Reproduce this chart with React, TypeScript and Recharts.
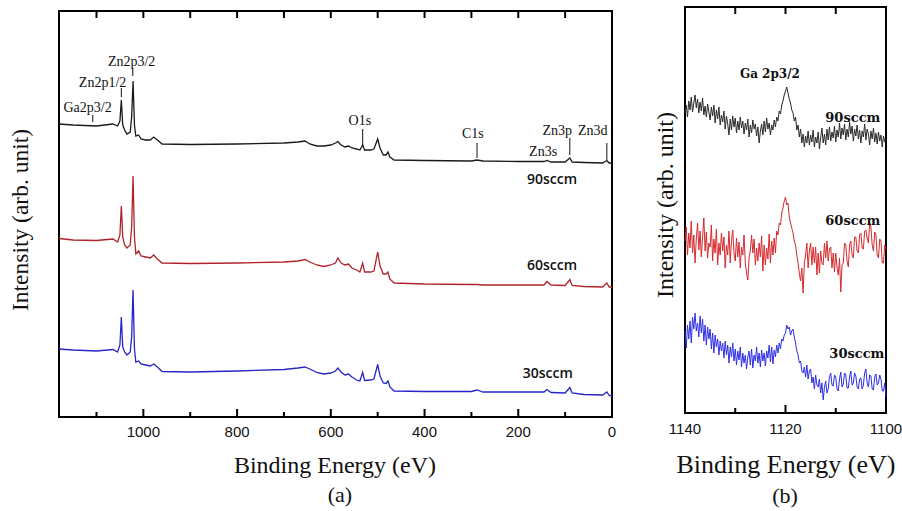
import React from 'react';
import { LineChart, Line, XAxis, YAxis, ReferenceLine, ReferenceDot, ReferenceArea } from 'recharts';

// (a) survey spectra, binding energy in eV
const surveyEv = [
  1180, 1150, 1100, 1065, 1055, 1050, 1047, 1044, 1040, 1035, 1028, 1025, 1022, 1019, 1016, 1010,
  1005, 995, 985, 978, 970, 960, 900, 800, 700, 670, 655, 645, 630, 615, 600, 590, 585, 578, 570,
  562, 555, 545, 538, 532, 528, 515, 508, 500, 495, 488, 482, 478, 474, 465, 400, 300, 288, 275,
  200, 145, 139, 130, 100, 90, 85, 60, 20, 11, 6, 0,
];
const survey90 = [
  293, 292, 291, 293, 291, 296, 317, 292, 287, 283, 285, 300, 336, 292, 281, 282,
  278, 277, 277, 280, 277, 273, 272.5, 273, 274, 275, 276, 273, 271, 271, 272, 274, 275.5, 272, 270,
  271, 269, 268, 267, 272, 267, 267, 268, 278, 269, 262, 262, 265, 260, 257, 256.5, 256, 257, 256,
  255.5, 255.5, 256.5, 255, 255, 259, 255, 254.5, 254, 256.5, 254, 254,
];
const survey60 = [
  178.5, 177, 176.5, 178, 175, 182, 211, 180, 172, 169, 172, 190, 241, 180, 163, 166,
  161, 160, 159, 162, 158, 154, 153.5, 154, 155, 156, 157.5, 155, 152, 150.5, 152, 154, 159, 154, 152,
  153, 149, 147, 145, 154, 145, 145, 146, 165, 151, 143, 143, 145, 138, 134, 133, 132.5, 132.5, 132,
  132, 132, 135.5, 132, 131.5, 137.5, 131.5, 130.5, 130, 134, 130, 130,
];
const survey30 = [
  68, 67, 66, 67.5, 65, 72, 100, 70, 65, 62, 65, 80, 127, 68, 55, 56,
  53, 52, 51, 53, 50, 45.5, 45, 46, 47.5, 49, 50, 48, 44.5, 43, 44, 46, 49, 45, 42,
  43, 40, 37, 36, 44.5, 36.5, 37, 38, 52.5, 41, 34, 33.5, 36, 30, 26, 25.5, 25.5, 27, 25,
  25, 25, 27.5, 24.5, 24, 29.5, 24, 22.5, 22, 25, 21.5, 21,
];
const surveyTicks = [0, 100, 200, 300, 400, 500, 600, 700, 800, 900, 1000, 1100];

// (b) Ga 2p3/2 narrow scan
const narrowEv = [
  1140, 1139.75, 1139.5, 1139.25, 1139, 1138.75, 1138.5, 1138.25, 1138, 1137.75,
  1137.5, 1137.25, 1137, 1136.75, 1136.5, 1136.25, 1136, 1135.75, 1135.5, 1135.25,
  1135, 1134.75, 1134.5, 1134.25, 1134, 1133.75, 1133.5, 1133.25, 1133, 1132.75,
  1132.5, 1132.25, 1132, 1131.75, 1131.5, 1131.25, 1131, 1130.75, 1130.5, 1130.25,
  1130, 1129.75, 1129.5, 1129.25, 1129, 1128.75, 1128.5, 1128.25, 1128, 1127.75,
  1127.5, 1127.25, 1127, 1126.75, 1126.5, 1126.25, 1126, 1125.75, 1125.5, 1125.25,
  1125, 1124.75, 1124.5, 1124.25, 1124, 1123.75, 1123.5, 1123.25, 1123, 1122.75,
  1122.5, 1122.25, 1122, 1121.75, 1121.5, 1121.25, 1121, 1120.75, 1120.5, 1120.25,
  1120, 1119.75, 1119.5, 1119.25, 1119, 1118.75, 1118.5, 1118.25, 1118, 1117.75,
  1117.5, 1117.25, 1117, 1116.75, 1116.5, 1116.25, 1116, 1115.75, 1115.5, 1115.25,
  1115, 1114.75, 1114.5, 1114.25, 1114, 1113.75, 1113.5, 1113.25, 1113, 1112.75,
  1112.5, 1112.25, 1112, 1111.75, 1111.5, 1111.25, 1111, 1110.75, 1110.5, 1110.25,
  1110, 1109.75, 1109.5, 1109.25, 1109, 1108.75, 1108.5, 1108.25, 1108, 1107.75,
  1107.5, 1107.25, 1107, 1106.75, 1106.5, 1106.25, 1106, 1105.75, 1105.5, 1105.25,
  1105, 1104.75, 1104.5, 1104.25, 1104, 1103.75, 1103.5, 1103.25, 1103, 1102.75,
  1102.5, 1102.25, 1102, 1101.75, 1101.5, 1101.25, 1101, 1100.75, 1100.5, 1100.25,
  1100,
];
const narrow90 = [
  300, 308, 296, 312, 303, 316, 301, 310, 318, 305,
  314, 300, 311, 302, 315, 298, 307, 296, 309, 301,
  293, 306, 297, 308, 290, 303, 294, 306, 288, 298,
  291, 302, 284, 297, 289, 278, 294, 283, 297, 286,
  295, 280, 292, 283, 296, 285, 292, 279, 290, 283,
  294, 276, 288, 280, 293, 284, 289, 277, 286, 270,
  282, 289, 278, 292, 281, 295, 284, 290, 278, 288,
  283, 293, 286, 296, 292, 302, 299, 308, 312, 318,
  322, 326, 320, 314, 310, 303, 300, 292, 296, 283,
  288, 276, 284, 270, 279, 266, 277, 270, 282, 268,
  278, 271, 283, 266, 276, 270, 281, 264, 275, 285,
  270, 279, 268, 284, 273, 286, 272, 281, 275, 287,
  271, 283, 276, 290, 274, 285, 278, 289, 273, 284,
  276, 291, 279, 287, 272, 284, 277, 288, 274, 283,
  270, 282, 276, 289, 273, 284, 279, 268, 282, 274,
  285, 271, 280, 269, 281, 272, 278, 266, 277, 271,
  274,
];
const narrow60 = [
  172, 186, 158, 180, 165, 192, 160, 178, 150, 174,
  190, 163, 182, 156, 176, 195, 162, 181, 155, 170,
  166, 188, 152, 174, 160, 184, 148, 170, 158, 180,
  162, 176, 145, 168, 158, 182, 150, 172, 183, 160,
  152, 175, 156, 171, 145, 166, 158, 178, 150, 140,
  133, 155, 162, 178, 160, 174, 148, 165, 152, 170,
  156, 177, 142, 168, 148, 165, 154, 179, 150, 172,
  158, 175, 160, 182, 178, 190, 188, 200, 205, 212,
  216, 208, 210, 196, 190, 185, 180, 172, 168, 158,
  150, 140, 132, 145, 120, 150, 158, 170, 145, 162,
  170, 148, 166, 150, 166, 138, 160, 140, 162, 150,
  148, 170, 155, 172, 152, 164, 166, 145, 160, 141,
  160, 146, 138, 155, 121, 148, 150, 170, 168, 152,
  146, 168, 172, 158, 155, 176, 176, 162, 160, 178,
  180, 165, 164, 182, 183, 175, 170, 190, 186, 168,
  162, 181, 178, 158, 155, 174, 172, 150, 150, 168,
  163,
];
const narrow30 = [
  82, 65, 88, 74, 92, 70, 96, 84, 100, 82,
  90, 76, 97, 80, 94, 72, 88, 68, 86, 74,
  84, 64, 80, 60, 78, 66, 74, 58, 72, 62,
  70, 55, 72, 58, 68, 50, 66, 56, 70, 52,
  64, 48, 62, 53, 66, 46, 60, 50, 58, 44,
  56, 62, 48, 64, 45, 58, 52, 66, 50, 60,
  46, 63, 52, 60, 47, 62, 55, 68, 51, 66,
  49, 63, 56, 68, 60, 70, 64, 74, 72, 78,
  80, 88, 84, 86, 78, 82, 84, 76, 70, 62,
  58, 50, 52, 42, 40, 46, 36, 48, 34, 42,
  44, 30, 36, 24, 38, 28, 26, 34, 20, 30,
  13, 26, 32, 20, 24, 36, 40, 28, 27, 38,
  36, 24, 22, 34, 41, 26, 29, 40, 38, 25,
  25, 36, 42, 28, 30, 40, 37, 26, 24, 34,
  35, 24, 28, 40, 44, 30, 26, 38, 37, 24,
  23, 36, 39, 28, 30, 38, 34, 22, 22, 30,
  16,
];
const narrowTicks = [1100, 1110, 1120, 1130, 1140];

const surveyRows = surveyEv.map((ev, i) => ({ ev, s90: survey90[i], s60: survey60[i], s30: survey30[i] }));
const narrowRows = narrowEv.map((ev, i) => ({ ev, s90: narrow90[i], s60: narrow60[i], s30: narrow30[i] }));

// peak annotations in (a): label spot and marker segment
const peakNotes = [
  { text: 'Ga2p3/2', ev: 1119, v: 305, line: [1108, 302, 295] },
  { text: 'Zn2p1/2', ev: 1087, v: 330, line: [1047, 329, 320] },
  { text: 'Zn2p3/2', ev: 1025, v: 351, line: [1022.6, 349, 341] },
  { text: 'O1s', ev: 538, v: 292, line: [532, 288, 272] },
  { text: 'C1s', ev: 297, v: 279, line: [288, 274, 259] },
  { text: 'Zn3s', ev: 147, v: 261, line: null },
  { text: 'Zn3p', ev: 117, v: 282, line: [90, 279, 262] },
  { text: 'Zn3d', ev: 41, v: 282, line: [11, 274, 257] },
];
const surveyTags = [
  { text: '90sccm', ev: 128, v: 233 },
  { text: '60sccm', ev: 128, v: 147 },
  { text: '30sccm', ev: 137, v: 39 },
];
const narrowTags = [
  { text: 'Ga 2p3/2', ev: 1123.1, v: 335, size: 12 },
  { text: '90sccm', ev: 1106.6, v: 291, size: 13 },
  { text: '60sccm', ev: 1106.6, v: 188, size: 13 },
  { text: '30sccm', ev: 1105.8, v: 55, size: 13 },
];

const tickFont = '"Liberation Sans", Arial, sans-serif';
const serif = '"Liberation Serif", "Times New Roman", serif';

const bottomTick = (axisY: number, labelEvery: number, gap: number) => (p: any) => {
  const v = p.payload.value;
  const major = v % labelEvery === 0;
  return (
    <g>
      <line x1={p.x} x2={p.x} y1={axisY} y2={axisY - (major ? 8 : 5)} stroke="#000" strokeWidth={2} />
      {major && (
        <text x={p.x} y={axisY + gap} textAnchor="middle" fontFamily={tickFont} fontSize={15} fill="#111">
          {v}
        </text>
      )}
    </g>
  );
};

function textShape(text: string, font: string, size: number, weight: number | string) {
  return (p: any) => (
    <text x={p.cx} y={p.cy} textAnchor="middle" fontFamily={font} fontSize={size} fontWeight={weight} fill="#111">
      {text}
    </text>
  );
}

function SurveyChart() {
  return (
    <LineChart width={640} height={511} data={surveyRows} margin={{ top: 11, left: 59, right: 28, bottom: 64 }}>
      <XAxis
        dataKey="ev"
        type="number"
        domain={[0, 1180]}
        reversed
        ticks={surveyTicks}
        interval={0}
        height={30}
        axisLine={false}
        tickLine={false}
        tick={bottomTick(417, 200, 20)}
      />
      <YAxis type="number" domain={[0, 406]} hide />
      <ReferenceArea x1={1180} x2={0} y1={0} y2={406} fill="none" stroke="#000" strokeWidth={2} ifOverflow="visible" />
      {surveyTicks.map((t) => (
        <ReferenceLine key={'top' + t} segment={[{ x: t, y: 406 }, { x: t, y: 399 }]} stroke="#000" strokeWidth={2} />
      ))}
      <Line dataKey="s90" stroke="#1a1a1a" strokeWidth={1.3} dot={false} type="linear" isAnimationActive={false} />
      <Line dataKey="s60" stroke="#b0232a" strokeWidth={1.3} dot={false} type="linear" isAnimationActive={false} />
      <Line dataKey="s30" stroke="#2626c8" strokeWidth={1.3} dot={false} type="linear" isAnimationActive={false} />
      {peakNotes.map((n) =>
        n.line ? (
          <ReferenceLine
            key={'l' + n.text}
            segment={[{ x: n.line[0], y: n.line[1] }, { x: n.line[0], y: n.line[2] }]}
            stroke="#111"
            strokeWidth={1}
          />
        ) : null
      )}
      {peakNotes.map((n) => (
        <ReferenceDot key={'t' + n.text} x={n.ev} y={n.v} r={0} ifOverflow="visible" shape={textShape(n.text, serif, 14, 400)} />
      ))}
      {surveyTags.map((n) => (
        <ReferenceDot key={n.text} x={n.ev} y={n.v} r={0} ifOverflow="visible" shape={textShape(n.text, '"Open Sans", sans-serif', 14, 600)} />
      ))}
    </LineChart>
  );
}

function NarrowChart() {
  return (
    <LineChart width={262} height={511} data={narrowRows} margin={{ top: 7, left: 45, right: 16, bottom: 68 }}>
      <XAxis
        dataKey="ev"
        type="number"
        domain={[1100, 1140]}
        reversed
        ticks={narrowTicks}
        interval={0}
        height={30}
        axisLine={false}
        tickLine={false}
        tick={bottomTick(413, 20, 21)}
      />
      <YAxis type="number" domain={[0, 406]} hide />
      <ReferenceArea x1={1140} x2={1100} y1={0} y2={406} fill="none" stroke="#000" strokeWidth={2} ifOverflow="visible" />
      {[1110, 1120, 1130].map((t) => (
        <ReferenceLine key={'top' + t} segment={[{ x: t, y: 406 }, { x: t, y: 399 }]} stroke="#000" strokeWidth={2} />
      ))}
      <Line dataKey="s90" stroke="#2a2a2a" strokeWidth={1} dot={false} type="linear" isAnimationActive={false} />
      <Line dataKey="s60" stroke="#d42a2f" strokeWidth={1} dot={false} type="linear" isAnimationActive={false} />
      <Line dataKey="s30" stroke="#2f2fe4" strokeWidth={1} dot={false} type="linear" isAnimationActive={false} />
      {narrowTags.map((n) => (
        <ReferenceDot key={n.text} x={n.ev} y={n.v} r={0} ifOverflow="visible" shape={textShape(n.text, '"DejaVu Serif", serif', n.size, 700)} />
      ))}
    </LineChart>
  );
}

export default function App() {
  return (
    <div style={{ position: 'fixed', left: 0, top: 0, width: 902, height: 511, background: '#fff', overflow: 'hidden' }}>
      <div style={{ position: 'absolute', left: 0, top: 0 }}>
        <SurveyChart />
      </div>
      <div style={{ position: 'absolute', left: 640, top: 0 }}>
        <NarrowChart />
      </div>
      <svg width={902} height={511} style={{ position: 'absolute', left: 0, top: 0, pointerEvents: 'none' }}>
        <g fontFamily={serif} fill="#111">
          <text x={20} y={220} fontSize={23.5} textAnchor="middle" dominantBaseline="central" transform="rotate(-90 20 220)">
            Intensity (arb. unit)
          </text>
          <text x={335} y={473} fontSize={24} textAnchor="middle">Binding Energy (eV)</text>
          <text x={340} y={502} fontSize={22} textAnchor="middle">(a)</text>
          <text x={665} y={205} fontSize={24} textAnchor="middle" dominantBaseline="central" transform="rotate(-90 665 205)">
            Intensity (arb. unit)
          </text>
          <text x={786} y={473} fontSize={26} textAnchor="middle">Binding Energy (eV)</text>
          <text x={785} y={503} fontSize={22} textAnchor="middle">(b)</text>
        </g>
      </svg>
    </div>
  );
}
